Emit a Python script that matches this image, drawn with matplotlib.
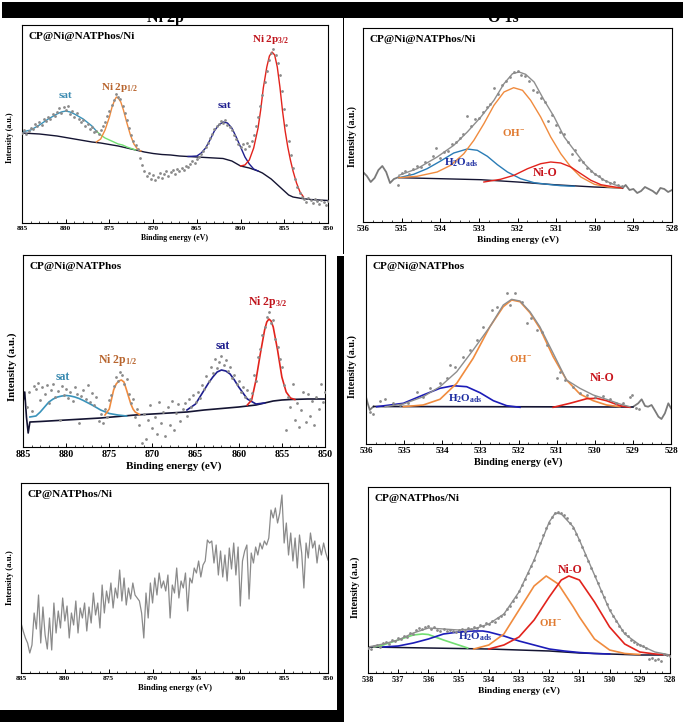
import numpy as np
import matplotlib.pyplot as plt
from matplotlib.patches import Rectangle
from matplotlib.ticker import MultipleLocator

plt.rcParams['font.family'] = ['Liberation Serif', 'DejaVu Serif']
plt.rcParams['font.weight'] = 'bold'
plt.rcParams['axes.labelweight'] = 'bold'
plt.rcParams['mathtext.fontset'] = 'custom'
plt.rcParams['mathtext.rm'] = 'Liberation Serif:bold'
plt.rcParams['mathtext.it'] = 'Liberation Serif:bold'
plt.rcParams['mathtext.bf'] = 'Liberation Serif:bold'
plt.rcParams['mathtext.default'] = 'rm'

# ---------------- panel A : Ni 2p, CP@Ni@NATPhos/Ni ----------------
a_bg_x = [885, 884, 883, 882, 881, 880, 879, 878, 877, 876, 875, 874, 873, 872, 871, 870, 869, 868, 867, 866,
          865, 864, 863, 862, 861, 860, 859, 858, 857.5, 857, 856.5, 856, 855.5, 855, 854.5, 854, 853, 852, 851, 850]
a_bg_y = [90, 89.5, 89, 88, 87, 85.5, 84, 82.5, 81, 80, 78.5, 77, 75, 73, 71, 69.5, 68.5, 68, 67, 66.5,
          66, 65.5, 65, 64.5, 62, 57, 55, 52, 50, 47, 44, 40, 36, 32, 28, 26, 24.5, 23.5, 23, 22.5]
a_sat1_x = [885, 884, 883, 882, 881, 880.5, 880, 879.5, 879, 878, 877, 876.5]
a_sat1_y = [91, 93, 98, 104, 109, 111, 112, 111, 109, 104, 97, 92]
a_sat1b_x = [876.5, 876, 875.5, 875, 874.5, 874, 873.5, 873, 872.5, 872]
a_sat1b_y = [92, 88, 85, 83, 81, 79, 78, 76, 74.5, 73]
a_p12_x = [876.5, 876, 875.5, 875, 874.7, 874.4, 874.2, 874, 873.7, 873.4, 873, 872.6, 872.2, 871.8, 871.4]
a_p12_y = [81, 84, 93, 106, 116, 123, 126, 125, 121, 113, 100, 88, 79, 74, 72]
a_sat2_x = [866, 865, 864.5, 864, 863.5, 863, 862.5, 862, 861.5, 861, 860.5, 860, 859.5, 859, 858.5, 858]
a_sat2_y = [66.5, 67, 70, 75, 83, 92, 98, 101, 100, 95, 86, 76, 66, 59, 54, 52]
a_p32_x = [860, 859.5, 859, 858.5, 858, 857.7, 857.4, 857, 856.7, 856.4, 856.1, 855.8, 855.5, 855.2, 854.9,
           854.6, 854.3, 854, 853.6, 853.2, 852.8]
a_p32_y = [57, 58, 63, 75, 95, 113, 135, 156, 167, 171, 168, 156, 136, 112, 92, 76, 63, 52, 40, 31, 26]
a_dots_y = [90, 93, 89, 92, 95, 94, 99, 97, 101, 98, 104, 102, 106, 104, 109, 107, 111, 115, 110, 116,
            113, 117, 109, 112, 106, 110, 104, 101, 103, 97, 99, 94, 96, 91, 92, 89, 93, 97, 101, 107,
            112, 118, 123, 129, 126, 124, 117, 110, 103, 95, 88, 82, 78, 74, 65, 58, 52, 47, 50, 44,
            48, 43, 46, 50, 45, 49, 52, 47, 51, 53, 49, 54, 52, 55, 53, 57, 56, 59, 62, 60,
            64, 66, 69, 72, 76, 80, 85, 89, 94, 97, 99, 102, 100, 103, 98, 96, 93, 88, 84, 79,
            76, 79, 74, 80, 77, 82, 88, 97, 106, 117, 128, 141, 152, 163, 170, 174, 168, 160, 148, 132,
            114, 98, 82, 68, 55, 44, 36, 30, 26, 24, 21, 25, 23, 20, 24, 22, 19, 23, 21, 18, 22]

# ---------------- panel B : O 1s, CP@Ni@NATPhos/Ni ----------------
b_bg_x = [535.07, 533.99, 532.95, 532.0, 531.05, 530.01, 529.28]
b_bg_y = [44.3, 43.3, 42.3, 40, 37.3, 35, 34]
b_noise_l_x = [536, 535.9, 535.8, 535.7, 535.6, 535.5, 535.4, 535.3, 535.2, 535.07]
b_noise_l_y = [50, 46, 40, 44, 52, 56, 50, 39, 43, 45]
b_noise_r_x = [529.28, 529.2, 529.1, 529.0, 528.9, 528.8, 528.7, 528.6, 528.5, 528.4, 528.3, 528.2, 528.1, 528.0]
b_noise_r_y = [34, 37, 32, 33, 29, 31, 35, 33, 31, 28, 34, 33, 30, 32]
b_env_x = [535.07, 534.6, 534.08, 533.65, 533.3, 532.95, 532.61, 532.35, 532.13, 531.96, 531.79, 531.57,
           531.31, 531.05, 530.79, 530.53, 530.27, 530.01, 529.75, 529.49, 529.28]
b_env_y = [46.7, 53.3, 65, 76.7, 90, 105, 121.7, 138.3, 148.3, 150, 147.7, 140,
           121.7, 105, 85, 71.7, 58.3, 48.3, 41.7, 37.3, 35]
b_oh_x = [535.07, 534.6, 534.08, 533.73, 533.39, 533.13, 532.87, 532.61, 532.35, 532.1, 531.87, 531.66,
          531.4, 531.14, 530.88, 530.62, 530.36, 530.01, 529.67, 529.32]
b_oh_y = [44.3, 45.7, 50, 56.7, 68.3, 81.7, 98.3, 116.7, 130, 134.3, 131.7, 121.7,
          105, 85, 68.3, 55, 45, 37.7, 35, 34]
b_h2o_x = [535.07, 534.69, 534.34, 533.99, 533.65, 533.3, 533.04, 532.78, 532.52, 532.26, 531.92, 531.57,
           531.23, 530.88, 530.53]
b_h2o_y = [44.3, 47.7, 53.3, 61, 69, 73, 71.7, 65.7, 57.3, 50, 43.3, 39.3, 37.7, 36.3, 35.7]
b_nio_x = [532.87, 532.44, 532.09, 531.74, 531.4, 531.14, 530.88, 530.62, 530.36, 530.1, 529.84, 529.49, 529.28]
b_nio_y = [40, 42.7, 46.7, 53.3, 58.3, 60, 59, 55, 48.3, 41.7, 37.3, 35, 34]
b_dots_x = [535.1, 535.0, 534.9, 534.8, 534.7, 534.6, 534.5, 534.4, 534.3, 534.2, 534.1, 534.0, 533.9, 533.8,
            533.7, 533.6, 533.5, 533.4, 533.3, 533.2, 533.1, 533.0, 532.9, 532.8, 532.7, 532.6, 532.5, 532.4,
            532.3, 532.2, 532.1, 532.0, 531.9, 531.8, 531.7, 531.6, 531.5, 531.4, 531.3, 531.2, 531.1, 531.0,
            530.9, 530.8, 530.7, 530.6, 530.5, 530.4, 530.3, 530.2, 530.1, 530.0, 529.9, 529.8, 529.7, 529.6,
            529.5, 529.4, 529.3]
b_dots_y = [37, 49, 51, 48, 53, 56, 55, 60, 58, 66, 74, 64, 70, 71,
            78, 80, 84, 88, 106, 96, 103, 104, 110, 115, 118, 134, 128, 137,
            141, 145, 150, 151, 147, 146, 141, 132, 130, 124, 120, 101, 107, 97,
            90, 88, 80, 68, 72, 62, 60, 54, 51, 48, 46, 43, 41, 39,
            40, 37, 36]

# ---------------- panel C : Ni 2p, CP@Ni@NATPhos ----------------
c_bg_x = [885, 884.8, 884.6, 884.4, 884.2, 883, 882, 880, 878, 876, 874, 872, 870, 868, 866, 864, 862, 860,
          858, 857, 856, 855, 854, 852, 850]
c_bg_y = [45, 55, 30, 14, 25, 25.5, 26, 27, 28, 29, 30.5, 32, 33, 34, 35, 37, 38.5, 40,
          42, 44, 46, 47, 47.5, 48, 48]
c_sat1_x = [884.2, 883.5, 883, 882.5, 882, 881.5, 881, 880.5, 880, 879.5, 879, 878.5, 878, 877, 876, 875, 874, 873]
c_sat1_y = [30, 31, 35, 40, 45, 48, 50, 51, 51.5, 51, 50, 48.5, 46.5, 42, 37, 33.5, 32, 31]
c_p12_x = [875.5, 875, 874.5, 874.2, 873.9, 873.6, 873.3, 873, 872.75, 872.5, 872.25, 872, 871.5]
c_p12_y = [32, 38, 57, 63, 66, 67, 65, 57, 50, 43, 38, 35, 32.5]
c_sat2_x = [866, 865, 864, 863.5, 863, 862.5, 862, 861.5, 861, 860.5, 860, 859, 858, 857]
c_sat2_y = [37, 43, 57, 64, 70, 75, 77, 76, 73, 67, 60, 48, 43, 44]
c_p32_x = [859, 858.5, 858, 857.5, 857, 856.75, 856.5, 856.25, 856, 855.5, 855, 854.5, 854, 853.5]
c_p32_y = [42, 47, 67, 93, 117, 125, 128, 126, 120, 97, 70, 55, 49, 47.5]
c_dots_y = [40, 55, 36, 61, 58, 64, 47, 60, 53, 62, 44, 57, 63, 50, 56, 27, 61, 52, 58, 49,
            55, 46, 60, 53, 24, 51, 57, 48, 62, 45, 54, 42, 50, 26, 33, 24, 38, 30, 47, 52,
            61, 70, 66, 75, 72, 63, 68, 53, 44, 48, 30, 38, 22, 4, 33, 8, 27, 42, 19, 30,
            13, 45, 24, 35, 11, 40, 22, 46, 17, 34, 43, 26, 38, 44, 31, 48, 40, 52, 45, 55,
            49, 62, 58, 71, 66, 80, 74, 88, 79, 85, 91, 82, 87, 76, 80, 69, 72, 63, 66, 55,
            60, 50, 57, 48, 54, 72, 66, 90, 98, 112, 120, 130, 135, 124, 127, 108, 100, 88, 80, 62,
            17, 50, 40, 63, 27, 44, 20, 37, 55, 25, 53, 31, 46, 22, 50, 38, 63, 45, 55]

# ---------------- panel D : O 1s, CP@Ni@NATPhos ----------------
d_bg_x = [535.8, 529.0]
d_bg_y = [37.5, 37]
d_noise_l_x = [536, 535.95, 535.9, 535.85, 535.8]
d_noise_l_y = [47, 40, 34, 36, 37.5]
d_noise_r_x = [528.99, 528.86, 528.77, 528.68, 528.6, 528.51, 528.42, 528.33, 528.25, 528.16, 528.07, 528.0]
d_noise_r_y = [37.3, 40.7, 44.7, 38, 37.3, 39, 33.3, 27.3, 25, 30.7, 40.7, 35.7]
d_env_x = [535.5, 535.02, 534.5, 534.06, 533.62, 533.19, 532.75, 532.4, 532.18, 531.96, 531.7, 531.44,
           531.09, 530.74, 530.39, 530.04, 529.69, 529.34, 529.08]
d_env_y = [37.3, 40, 47.3, 57.3, 72.3, 94, 117.3, 139, 144.7, 143, 132.3, 117.3,
           90.7, 64, 55.7, 49, 44.7, 40, 37.3]
d_oh_x = [535.02, 534.5, 534.06, 533.62, 533.19, 532.75, 532.4, 532.18, 531.96, 531.7, 531.44, 531.09,
          530.74, 530.39, 530.04, 529.69, 529.34]
d_oh_y = [37.3, 39, 44.7, 60.7, 85.7, 117.3, 137.3, 144, 142.3, 131.3, 115.7, 87.3,
          64, 50, 43.3, 39, 37.3]
d_h2o_x = [535.72, 535.02, 534.5, 534.06, 533.71, 533.36, 533.01, 532.66, 532.31, 531.96]
d_h2o_y = [37.3, 40.7, 49, 55.7, 58.3, 57.3, 51.3, 43.3, 38.3, 36.7]
d_nio_x = [531.09, 530.65, 530.21, 529.95, 529.69, 529.34, 529.08]
d_nio_y = [36.7, 40.7, 45.3, 45.7, 43.3, 38.3, 36.7]
d_dots_x = [535.9, 535.81, 535.63, 535.5, 535.28, 535.11, 534.89, 534.67, 534.5, 534.32, 534.06, 533.88,
            533.8, 533.67, 533.45, 533.27, 533.1, 532.92, 532.7, 532.57, 532.31, 532.22, 532.09, 531.92,
            531.79, 531.66, 531.52, 531.39, 531.26, 531.0, 530.91, 530.78, 530.56, 530.39, 530.21, 529.99,
            529.78, 529.6, 529.43, 529.25, 529.08, 529.01, 528.92, 528.83]
d_dots_y = [32.3, 30, 43.3, 44.7, 40.7, 39, 41.3, 52.3, 47.3, 55.7, 60.7, 65.7,
            79, 77.3, 87.3, 94, 104, 117.3, 134, 137.3, 150.7, 139, 151.3, 142.3,
            120.7, 125.7, 114, 112.3, 99, 65.7, 72.3, 64, 57.3, 50.7, 49, 47.3,
            48, 44.7, 41.3, 40.7, 47.3, 49, 35.7, 34.7]

# ---------------- panel E : Ni 2p, CP@NATPhos/Ni (raw) ----------------
e_line_y = [50, 42, 35, 30, 20, 28, 60, 44, 78, 30, 66, 38, 24, 55, 23, 70, 40, 62, 45, 75,
            52, 67, 35, 60, 48, 72, 40, 65, 55, 70, 42, 66, 50, 80, 58, 70, 45, 88, 60, 82,
            70, 90, 65, 85, 75, 103, 72, 95, 68, 85, 74, 90, 78, 75, 72, 60, 35, 80, 55, 90,
            70, 95, 78, 100, 85, 92, 82, 98, 55, 88, 80, 105, 75, 92, 85, 100, 62, 95, 90, 105,
            100, 112, 96, 108, 112, 133, 130, 132, 110, 128, 98, 122, 96, 118, 92, 125, 104, 130, 98, 126,
            67, 112, 122, 128, 74, 120, 110, 126, 118, 130, 124, 132, 128, 135, 163, 155, 165, 150, 160, 178,
            130, 150, 118, 140, 112, 135, 105, 138, 120, 85, 130, 115, 140, 125, 132, 110, 128, 118, 130, 120, 113]

# ---------------- panel F : O 1s, CP@NATPhos/Ni ----------------
f_bg_x = [538, 536, 534, 533, 532, 531, 530, 529, 528]
f_bg_y = [26, 25, 24, 23, 22, 20, 19, 18, 18]
f_env_x = [538, 537.5, 537, 536.5, 536, 535.5, 535, 534.5, 534, 533.5, 533, 532.5, 532, 531.8, 531.6,
           531.2, 531, 530.5, 530, 529.5, 529, 528.5, 528]
f_env_y = [26, 29, 33, 40, 45, 44, 43, 44, 49, 59, 81, 113, 151, 160, 159, 146, 133, 98, 63, 39, 28, 21, 18]
f_grn_x = [537.8, 537.5, 537, 536.5, 536.2, 536, 535.5, 535, 534.7]
f_grn_y = [26, 28, 33, 38, 39, 38.5, 33, 28, 25]
f_h2o_x = [537.5, 537, 536.5, 536, 535.5, 535, 534.5, 534.2, 534, 533.5, 533, 532.5, 532, 531.5, 531, 530.5, 530]
f_h2o_y = [26, 27, 30, 34, 39, 41, 42, 42, 41, 37, 32, 28, 24, 22, 20.5, 19.5, 19]
f_oh_x = [534.5, 534, 533.5, 533, 532.5, 532.1, 531.7, 531.2, 531, 530.5, 530, 529.5, 529]
f_oh_y = [24, 28, 39, 63, 87, 97, 89, 66, 56, 34, 23, 19.5, 18.5]
f_nio_x = [534, 533.5, 533, 532.5, 532, 531.6, 531.35, 531, 530.5, 530, 529.5, 529, 528.5, 528]
f_nio_y = [24, 28, 36, 53, 76, 93, 97, 93, 71, 46, 29, 21, 19, 18]
f_dots_y = [25, 24, 27, 28, 26, 30, 31, 29, 33, 32, 35, 34, 37, 36, 40, 39, 43, 45, 44, 46,
            47, 44, 46, 43, 42, 44, 42, 43, 42, 41, 43, 44, 42, 45, 44, 46, 45, 48, 47, 50,
            49, 52, 51, 55, 57, 59, 64, 67, 72, 76, 82, 88, 94, 100, 107, 113, 122, 130, 138, 145,
            150, 156, 160, 161, 160, 158, 155, 150, 145, 139, 133, 126, 118, 112, 105, 97, 90, 82, 76, 69,
            63, 57, 52, 47, 43, 40, 37, 33, 31, 29, 28, 27, 25, 14, 15, 13, 14, 12, 19, 18, 17]

# colours
GRAY = '#8e8e8e'
DOT = '#8a8a8a'
BGC = '#141432'
TEAL = '#3a93ba'
GREEN = '#72de72'
ORANGE = '#f08b3e'
NAVY = '#1e1e8e'
RED = '#e2231c'
BLUEB = '#2a7cb6'
BLUE = '#1c1cb8'

W, H = 685, 725
fig = plt.figure(figsize=(W / 100, H / 100), dpi=100)


def add_panel(box, xlim, major, minor, tick_fs):
    x0, yt, x1, yb = box
    ax = fig.add_axes([x0 / W, 1 - yb / H, (x1 - x0) / W, (yb - yt) / H])
    ax.set_xlim(*xlim)
    ax.set_ylim(0, yb - yt)
    ax.set_yticks([])
    ax.xaxis.set_major_locator(MultipleLocator(major))
    ax.xaxis.set_minor_locator(MultipleLocator(minor))
    ax.tick_params(axis='x', which='major', direction='in', length=3, width=0.7, labelsize=tick_fs, pad=2)
    ax.tick_params(axis='x', which='minor', direction='in', length=1.5, width=0.5)
    for s in ax.spines.values():
        s.set_linewidth(0.8)
    return ax


def labels(ax, xfs, yfs, xpad, ycoord):
    ax.set_xlabel('Binding energy (eV)', fontsize=xfs, labelpad=xpad)
    ax.set_ylabel('Intensity (a.u.)', fontsize=yfs)
    ax.yaxis.set_label_coords(*ycoord)


def name(ax, s):
    ax.text(0.02, 0.94, s, transform=ax.transAxes, fontsize=8, ha='left', va='center')


def dots(ax, x, y):
    ax.plot(x, y, 'o', ms=2.0, color=DOT, mec='none', zorder=4)


# ---- A
ax = add_panel((22, 25, 328, 223), (885, 850), 5, 1, 5.4)
ax.plot(a_bg_x, a_bg_y, color=BGC, lw=1.0)
ax.plot(a_sat1_x, a_sat1_y, color=TEAL, lw=1.0)
ax.plot(a_sat1b_x, a_sat1b_y, color=GREEN, lw=1.0)
ax.plot(a_p12_x, a_p12_y, color=ORANGE, lw=1.0)
ax.plot(a_sat2_x, a_sat2_y, color=NAVY, lw=1.0)
ax.plot(a_p32_x, a_p32_y, color=RED, lw=1.0)
dots(ax, np.linspace(885, 850, len(a_dots_y)), a_dots_y)
name(ax, 'CP@Ni@NATPhos/Ni')
ax.text(880.0, 128, 'sat', color='#3a8ab0', fontsize=8, ha='center', va='center')
ax.text(873.8, 136, 'Ni 2p$_{1/2}$', color='#b8652e', fontsize=8, ha='center', va='center')
ax.text(861.9, 118, 'sat', color=NAVY, fontsize=8, ha='center', va='center')
ax.text(856.6, 183, 'Ni 2p$_{3/2}$', color='#c0141c', fontsize=8, ha='center', va='center')
labels(ax, 5.6, 5.8, 2, (-0.026, 0.43))

# ---- B
ax = add_panel((363, 28, 672, 222), (536, 528), 1, 0.25, 6.2)
ax.plot(b_noise_l_x, b_noise_l_y, color='#7a7a7a', lw=1.3)
ax.plot(b_noise_r_x, b_noise_r_y, color='#7a7a7a', lw=1.3)
ax.plot(b_bg_x, b_bg_y, color=BGC, lw=1.0)
ax.plot(b_h2o_x, b_h2o_y, color=BLUEB, lw=1.0)
ax.plot(b_oh_x, b_oh_y, color=ORANGE, lw=1.0)
ax.plot(b_nio_x, b_nio_y, color=RED, lw=1.0)
ax.plot(b_env_x, b_env_y, color=GRAY, lw=1.0)
dots(ax, b_dots_x, b_dots_y)
name(ax, 'CP@Ni@NATPhos/Ni')
ax.text(532.1, 89, 'OH$^{-}$', color='#e07a30', fontsize=8, ha='center', va='center')
ax.text(533.46, 59, 'H$_2$O$_{ads}$', color='#1a2aa0', fontsize=8, ha='center', va='center')
ax.text(531.29, 49, 'Ni-O', color='#c8141c', fontsize=8.5, ha='center', va='center')
labels(ax, 6.8, 7.0, 2, (-0.02, 0.44))

# ---- C
ax = add_panel((23, 255, 325, 447), (885, 850), 5, 1, 7.2)
ax.plot(c_bg_x, c_bg_y, color=BGC, lw=1.2)
ax.plot(c_sat1_x, c_sat1_y, color=TEAL, lw=1.2)
ax.plot(c_p12_x, c_p12_y, color=ORANGE, lw=1.2)
ax.plot(c_sat2_x, c_sat2_y, color=NAVY, lw=1.2)
ax.plot(c_p32_x, c_p32_y, color=RED, lw=1.2)
dots(ax, np.linspace(884.5, 850, len(c_dots_y)), c_dots_y)
name(ax, 'CP@Ni@NATPhos')
ax.text(880.4, 70, 'sat', color='#3a8ab0', fontsize=8.5, ha='center', va='center')
ax.text(874.0, 87, 'Ni 2p$_{1/2}$', color='#b8652e', fontsize=8.5, ha='center', va='center')
ax.text(861.9, 101, 'sat', color=NAVY, fontsize=8.5, ha='center', va='center')
ax.text(856.6, 145, 'Ni 2p$_{3/2}$', color='#c0141c', fontsize=8.5, ha='center', va='center')
labels(ax, 8.0, 7.8, 2, (-0.02, 0.42))

# ---- D
ax = add_panel((366, 255, 671, 444), (536, 528), 1, 0.25, 6.6)
ax.plot(d_noise_l_x, d_noise_l_y, color='#7a7a7a', lw=1.3)
ax.plot(d_noise_r_x, d_noise_r_y, color='#7a7a7a', lw=1.3)
ax.plot(d_bg_x, d_bg_y, color=BGC, lw=1.2)
ax.plot(d_h2o_x, d_h2o_y, color=BLUE, lw=1.2)
ax.plot(d_oh_x, d_oh_y, color=ORANGE, lw=1.2)
ax.plot(d_nio_x, d_nio_y, color=RED, lw=1.2)
ax.plot(d_env_x, d_env_y, color=GRAY, lw=1.0)
dots(ax, d_dots_x, d_dots_y)
name(ax, 'CP@Ni@NATPhos')
ax.text(531.96, 86, 'OH$^{-}$', color='#e07a30', fontsize=7.8, ha='center', va='center')
ax.text(533.4, 45, 'H$_2$O$_{ads}$', color='#1a2aa0', fontsize=8, ha='center', va='center')
ax.text(529.8, 66, 'Ni-O', color='#c8141c', fontsize=8.5, ha='center', va='center')
labels(ax, 7.4, 7.2, 2, (-0.03, 0.41))

# ---- E
ax = add_panel((21, 483, 328, 673), (885, 850), 5, 1, 5.4)
ax.plot(np.linspace(885, 850, len(e_line_y)), e_line_y, color='#8a8a8a', lw=0.9)
name(ax, 'CP@NATPhos/Ni')
labels(ax, 6.2, 6.3, 2, (-0.022, 0.5))

# ---- F
ax = add_panel((368, 487, 670, 673), (538, 528), 1, 0.25, 5.9)
ax.plot(f_bg_x, f_bg_y, color=BGC, lw=1.1)
ax.plot(f_grn_x, f_grn_y, color=GREEN, lw=1.2)
ax.plot(f_h2o_x, f_h2o_y, color=BLUE, lw=1.2)
ax.plot(f_oh_x, f_oh_y, color=ORANGE, lw=1.2)
ax.plot(f_nio_x, f_nio_y, color=RED, lw=1.2)
ax.plot(f_env_x, f_env_y, color=GRAY, lw=1.0)
dots(ax, np.linspace(538, 528, len(f_dots_y)), f_dots_y)
name(ax, 'CP@NATPhos/Ni')
ax.text(531.3, 103, 'Ni-O', color='#c8141c', fontsize=8.5, ha='center', va='center')
ax.text(531.97, 50, 'OH$^{-}$', color='#e07a30', fontsize=7.8, ha='center', va='center')
ax.text(534.46, 36, 'H$_2$O$_{ads}$', color='#1a2aa0', fontsize=8, ha='center', va='center')
labels(ax, 6.8, 7.1, 2, (-0.025, 0.46))

# column titles, partly hidden under the black header bar
fig.text(165 / W, 1 - 22.5 / H, 'Ni 2p', fontsize=11.5, ha='center', va='baseline', zorder=2)
fig.text(503 / W, 1 - 22.5 / H, 'O 1s', fontsize=11.5, ha='center', va='baseline', zorder=2)


def bar(x0, y0, x1, y1):
    fig.add_artist(Rectangle((x0 / W, 1 - y1 / H), (x1 - x0) / W, (y1 - y0) / H,
                             transform=fig.transFigure, facecolor='black', edgecolor='none', zorder=10))


bar(2, 2, 683, 18)
bar(342.5, 18, 344, 254)
bar(337, 256, 344, 722)
bar(0, 710, 344, 722)

fig.savefig('out.png', dpi=100)
